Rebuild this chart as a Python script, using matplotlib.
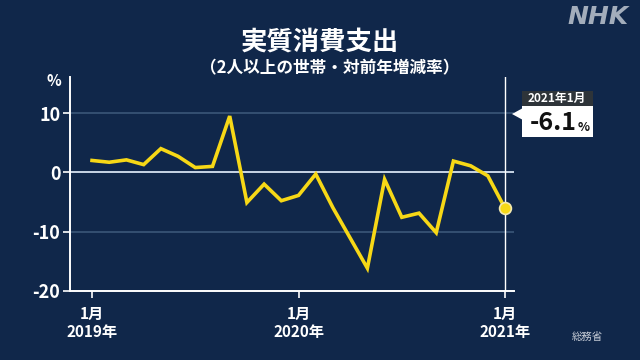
import matplotlib
matplotlib.use('Agg')
import matplotlib.pyplot as plt
from matplotlib.patches import Rectangle, Polygon

plt.rcParams['font.family'] = ['Noto Sans CJK JP', 'DejaVu Sans']

# monthly real consumption expenditure, y/y % (Jan 2019 - Jan 2021)
months = list(range(25))
values = [2.0, 1.7, 2.1, 1.3, 4.0, 2.7, 0.8, 1.0, 9.5, -5.1, -2.0, -4.8,
          -3.9, -0.3, -6.0, -11.1, -16.2, -1.2, -7.6, -6.9, -10.2, 1.9, 1.1, -0.6,
          -6.1]
xtick_pos = [0, 12, 24]
xtick_labels = ['1月\n2019年', '1月\n2020年', '1月\n2021年']
yticks = [10, 0, -10, -20]

bg = '#10274a'
yellow = '#f7d816'
W, H = 640, 360

fig = plt.figure(figsize=(6.4, 3.6), dpi=100, facecolor=bg)
ax = fig.add_axes([70 / W, 1 - 290.7 / H, 444 / W, 213.7 / H])
ax.set_facecolor(bg)

ax.set_xlim(-1.28, 24.52)
ax.set_ylim(-20, 16.1)

# grid lines
ax.axhline(10, color='#3b5678', lw=1.2, zorder=1)
ax.axhline(-10, color='#3b5678', lw=1.2, zorder=1)
ax.axhline(0, color='#c9d5e6', lw=1.4, zorder=1)
ax.axvline(24, color='white', lw=1.0, zorder=1)

ax.plot(months, values, color=yellow, lw=2.6, zorder=3, solid_joinstyle='miter')
ax.plot(months[-1], values[-1], 'o', ms=8.5, color=yellow, mec='#f3e9b0', mew=1.2, zorder=4)

for s in ['top', 'right']:
    ax.spines[s].set_visible(False)
for s in ['left', 'bottom']:
    ax.spines[s].set_color('white')
    ax.spines[s].set_linewidth(1.4)

ax.set_xticks(xtick_pos)
ax.set_xticklabels(xtick_labels, fontsize=11, color='white', linespacing=1.15,
                   fontweight='bold')
ax.set_yticks(yticks)
ax.set_yticklabels([str(v) for v in yticks], fontsize=13, color='white', fontweight='bold')
ax.tick_params(axis='both', colors='white', length=5, width=1.2, direction='out')
ax.tick_params(axis='x', pad=6)
ax.tick_params(axis='y', pad=2)

# titles
fig.text(320 / W, 1 - 42 / H, '実質消費支出', ha='center', va='center',
         fontsize=19, fontweight='bold', color='white')
fig.text(330 / W, 1 - 68 / H, '（2人以上の世帯・対前年増減率）', ha='center', va='center',
         fontsize=12, fontweight='bold', color='white')
fig.text(54 / W, 1 - 81 / H, '%', ha='center', va='center', fontsize=11,
         fontweight='bold', color='white')

# NHK mark
fig.text(598 / W, 1 - 17 / H, 'NHK', ha='center', va='center', fontsize=18,
         fontweight='heavy', fontstyle='italic', color='#a3adbb', family='DejaVu Sans')

fig.text(587 / W, 1 - 337 / H, '総務省', ha='center', va='center', fontsize=7.5, color='#c8ced8')

# callout
fig.add_artist(Rectangle((522 / W, 1 - 106 / H), 71 / W, 15 / H, transform=fig.transFigure,
                         facecolor='#2e3439', edgecolor='none'))
fig.text(557 / W, 1 - 98.5 / H, '2021年1月', ha='center', va='center', fontsize=8.5,
         fontweight='bold', color='white')
fig.add_artist(Rectangle((522 / W, 1 - 137 / H), 71 / W, 31 / H, transform=fig.transFigure,
                         facecolor='white', edgecolor='none'))
fig.add_artist(Polygon([(512 / W, 1 - 114 / H), (523 / W, 1 - 108 / H), (523 / W, 1 - 120 / H)],
                       closed=True, transform=fig.transFigure, facecolor='white', edgecolor='none'))
fig.text(553 / W, 1 - 123 / H, '{:.1f}'.format(values[-1]), ha='center', va='center',
         fontsize=18, fontweight='bold', color='#111111')
fig.text(584 / W, 1 - 127 / H, '%', ha='center', va='center', fontsize=9,
         fontweight='bold', color='#111111')

fig.savefig('out.png', dpi=100, facecolor=bg)
